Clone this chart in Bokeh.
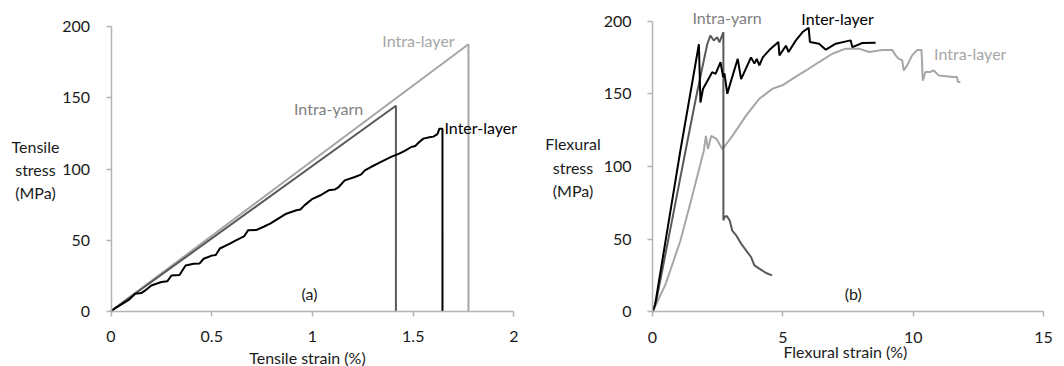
from bokeh.plotting import figure
from bokeh.models import Label, FixedTicker, Range1d
from bokeh.layouts import row
from bokeh.embed import file_html
from bokeh.resources import INLINE

# ---------------- data: (a) tensile ----------------
ten_intra_layer_x = [0, 1.774, 1.774]
ten_intra_layer_y = [0, 187.8, 0]
ten_intra_yarn_x = [0, 1.414, 1.414]
ten_intra_yarn_y = [0, 144.5, 0]
ten_inter_layer_x = [0, 0.05, 0.09, 0.12, 0.15, 0.17, 0.2, 0.25, 0.28, 0.3, 0.34, 0.37, 0.41,
                     0.44, 0.46, 0.5, 0.52, 0.54, 0.59, 0.62, 0.66, 0.68, 0.72, 0.76, 0.79,
                     0.84, 0.87, 0.92, 0.94, 0.96, 1.0, 1.04, 1.08, 1.11, 1.13, 1.16, 1.21,
                     1.24, 1.26, 1.29, 1.34, 1.39, 1.43, 1.46, 1.49, 1.51, 1.53, 1.55, 1.58,
                     1.6, 1.62, 1.63, 1.645, 1.645]
ten_inter_layer_y = [0, 4.5, 8, 12.2, 12.6, 14.5, 18, 20.4, 21, 25, 25.3, 32, 33.3,
                     33.5, 36.8, 39, 39.5, 44, 47.4, 49.8, 52.5, 56.8, 57, 59.5, 61.5,
                     66, 68.5, 71, 71.5, 74.4, 79, 81.5, 85, 85.5, 87.3, 92, 94.4,
                     96, 99, 101.4, 105, 108.5, 110.8, 113, 115.5, 116.2, 119, 121.4, 122.3,
                     122.8, 124.5, 128.4, 128.4, 0]

ten_x_ticks = [0, 0.5, 1, 1.5, 2]
ten_x_labels = ["0", "0.5", "1", "1.5", "2"]
stress_ticks = [0, 50, 100, 150, 200]

# ---------------- data: (b) flexural ----------------
flex_inter_layer_x = [0, 0.1, 0.63, 1.07, 1.45, 1.78, 1.84, 1.94, 2.29, 2.42, 2.61, 2.71, 2.76,
                      2.87, 2.96, 3.27, 3.40, 3.78, 3.91, 4.00, 4.10, 4.23, 4.48, 4.83, 4.87,
                      5.12, 5.22, 5.50, 5.76, 5.99, 6.04, 6.39, 6.65, 7.03, 7.60, 7.67, 8.05, 8.56]
flex_inter_layer_y = [0, 5, 63, 111, 150, 184, 144, 153.5, 164.8, 163.7, 171.7, 161.4, 164,
                      150, 155.6, 174, 160, 175, 170.7, 174, 169.5, 175, 180, 185.6, 176.4,
                      183, 178.7, 186.7, 192.4, 195.4, 185.6, 184.4, 180.3, 184.4, 186.7, 182, 184.9, 185]
flex_intra_yarn_x = [0, 0.15, 0.75, 1.27, 1.7, 2.1, 2.22, 2.35, 2.48, 2.57, 2.72, 2.72, 2.76,
                     2.85, 2.96, 3.06, 3.21, 3.4, 3.59, 3.78, 3.91, 4.17, 4.36, 4.59]
flex_intra_yarn_y = [0, 8, 63, 111, 150, 184, 190, 186.6, 188.9, 185.4, 192.3, 63, 65.3,
                     66, 63, 56, 52.7, 47, 42.4, 37.8, 32, 29, 26.8, 25.2]
flex_intra_layer_x = [0, 0.5, 1.07, 1.5, 1.97, 2.05, 2.13, 2.25, 2.45, 2.68, 2.75, 3.08, 3.59,
                      4.1, 4.61, 4.99, 5.38, 5.89, 6.39, 6.9, 7.41, 7.92, 8.31, 8.82, 9.2,
                      9.33, 9.45, 9.58, 9.64, 9.77, 9.96, 10.15, 10.32, 10.37, 10.47, 10.66,
                      10.79, 10.98, 11.55, 11.68, 11.72, 11.81]
flex_intra_layer_y = [0, 19, 49, 78, 111, 121, 112, 121, 119, 112, 113.4, 121.4, 135,
                      146.6, 153.5, 155.8, 160.4, 166, 171.8, 177.5, 181, 181, 178.7, 180, 180,
                      176.4, 174, 173, 166, 169.5, 176.4, 180, 180, 159, 165, 165,
                      166, 162.6, 161.5, 161.5, 158, 158]

flex_x_ticks = [0, 5, 10, 15]
flex_x_labels = ["0", "5", "10", "15"]

FONT = "Lato"
C_LIGHT = "#a6a6a6"
C_DARK = "#595959"
C_YARN_TXT = "#7f7f7f"
AXIS_C = "#b4b4b4"
TXT_C = "#1a1a1a"


def make_fig(width, xr, yr, xbounds, xticks, xlabels):
    p = figure(width=width, height=366, output_backend="svg", toolbar_location=None,
               x_range=Range1d(*xr), y_range=Range1d(*yr),
               min_border_left=0, min_border_right=0, min_border_top=0, min_border_bottom=0)
    p.outline_line_color = None
    p.xgrid.visible = False
    p.ygrid.visible = False
    p.background_fill_color = "white"
    p.border_fill_color = "white"
    xa, ya = p.xaxis[0], p.yaxis[0]
    xa.fixed_location = 0
    ya.fixed_location = 0
    xa.bounds = xbounds
    ya.bounds = (0, 200)
    for ax in (xa, ya):
        ax.axis_line_color = AXIS_C
        ax.axis_line_width = 1.5
        ax.major_tick_line_color = AXIS_C
        ax.major_tick_line_width = 1.5
        ax.major_tick_out = 5
        ax.major_tick_in = 0
        ax.minor_tick_line_color = None
        ax.major_label_text_font = FONT
        ax.major_label_text_font_size = "16px"
        ax.major_label_text_color = TXT_C
    xa.major_label_standoff = 15
    ya.major_label_standoff = 16
    xa.ticker = FixedTicker(ticks=xticks)
    xa.major_label_overrides = {t: l for t, l in zip(xticks, xlabels)}
    ya.ticker = FixedTicker(ticks=stress_ticks)
    return p


def lab(p, x, y, text, color=TXT_C, align="center", size="16px"):
    p.add_layout(Label(x=x, y=y, text=text, text_font=FONT, text_font_size=size,
                       text_color=color, text_align=align, text_baseline="middle"))


# ---------------- panel (a) ----------------
pa = make_fig(530, (-0.5484, 2.0819), (-39.08, 218.66), (0, 2), ten_x_ticks, ten_x_labels)
pa.line(ten_intra_layer_x, ten_intra_layer_y, line_color=C_LIGHT, line_width=2)
pa.line(ten_intra_yarn_x, ten_intra_yarn_y, line_color=C_DARK, line_width=2)
pa.line(ten_inter_layer_x, ten_inter_layer_y, line_color="black", line_width=2)

lab(pa, 1.526, 190.5, "Intra-layer", C_LIGHT)
lab(pa, 1.08, 142.6, "Intra-yarn", C_YARN_TXT)
lab(pa, 1.655, 129, "Inter-layer", "black", align="left")
lab(pa, 0.985, 12.3, "(a)")
lab(pa, -0.375, 115.8, "Tensile")
lab(pa, -0.375, 99.6, "stress")
lab(pa, -0.375, 83.5, "(MPa)")
lab(pa, 0.975, -32.7, "Tensile strain (%)")

# ---------------- panel (b) ----------------
pb = make_fig(534, (-4.680, 15.806), (-37.46, 214.09), (0, 15), flex_x_ticks, flex_x_labels)
pb.line(flex_intra_layer_x, flex_intra_layer_y, line_color=C_LIGHT, line_width=2)
pb.line(flex_intra_yarn_x, flex_intra_yarn_y, line_color=C_DARK, line_width=2)
pb.line(flex_inter_layer_x, flex_inter_layer_y, line_color="black", line_width=2)

lab(pb, 2.86, 202.4, "Intra-yarn", C_YARN_TXT)
lab(pb, 7.1, 201.7, "Inter-layer", "black")
lab(pb, 12.19, 177.7, "Intra-layer", C_LIGHT)
lab(pb, 7.7, 12.7, "(b)")
lab(pb, -3.05, 115.8, "Flexural")
lab(pb, -3.05, 99.3, "stress")
lab(pb, -3.05, 83.5, "(MPa)")
lab(pb, 7.4, -27.1, "Flexural strain (%)")

layout = row(pa, pb)
open("out.html", "w").write(file_html(layout, INLINE))
